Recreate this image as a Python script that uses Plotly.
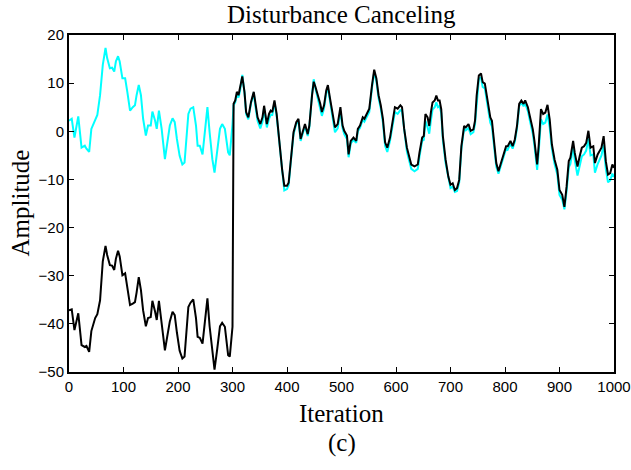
import plotly.graph_objects as go

# ---------------- data ----------------
iter_pre = [0, 5, 10, 17, 23, 29, 32, 37, 41, 48,
            52, 57, 62, 67, 70, 75, 79, 83, 86, 90,
            93, 98, 103, 107, 112, 117, 121, 124, 128, 132,
            136, 141, 145, 150, 153, 158, 161, 165, 170, 176,
            180, 185, 190, 194, 198, 203, 208, 212, 219, 223,
            228, 233, 236, 240, 245, 249, 254, 258, 263, 267,
            272, 277, 281, 286, 292, 295, 300]

disturbance_pre = [2.2, 2.6, -1.3, 3.1, -3.4, -3.0, -3.6, -4.3, 0.5, 2.6,
                   3.4, 7.5, 13.8, 17.3, 15.2, 13.1, 13.2, 12.4, 14.5, 15.6,
                   14.5, 11.0, 11.0, 8.2, 4.3, 5.0, 5.4, 7.5, 9.6, 7.5,
                   2.6, -0.9, 1.2, 1.2, 4.1, 2.2, 0.5, 4.3, 0.5, -5.8,
                   -2.3, 1.2, 2.7, 1.9, -1.6, -5.1, -6.9, -6.5, 3.6, 4.7,
                   5.0, 1.2, -3.0, -3.0, -4.8, -0.2, 5.0, -0.2, -5.8, -8.6,
                   -4.4, 0.5, 1.5, 0.5, -4.4, -5.0, 1.5]

output_pre = [-37.2, -37.0, -41.3, -37.8, -44.4, -44.8, -44.6, -45.8, -41.5, -38.8,
              -38.0, -35.1, -27.0, -23.8, -25.7, -27.8, -27.9, -28.8, -26.5, -24.8,
              -26.0, -29.9, -29.5, -32.5, -36.1, -35.8, -35.5, -33.5, -30.3, -33.0,
              -37.2, -40.5, -38.8, -38.6, -35.2, -37.5, -39.2, -35.2, -39.5, -45.5,
              -42.8, -39.5, -37.5, -38.2, -41.8, -45.6, -47.2, -46.8, -36.5, -35.6,
              -34.9, -38.8, -42.7, -42.9, -44.1, -40.2, -34.7, -40.5, -46.4, -49.5,
              -45.2, -40.5, -39.8, -40.6, -46.5, -46.8, -40.6]

iter_post = [302, 305, 308, 311, 314, 318, 322, 325, 329, 334,
             339, 342, 346, 351, 355, 358, 363, 367, 370, 373,
             377, 381, 386, 391, 395, 400, 403, 407, 412, 417,
             421, 425, 430, 433, 438, 441, 446, 449, 452, 456,
             461, 464, 468, 472, 475, 479, 484, 488, 493, 498,
             502, 505, 510, 513, 517, 522, 527, 530, 534, 539,
             542, 546, 551, 556, 560, 564, 568, 572, 576, 580,
             584, 589, 594, 598, 603, 608, 611, 615, 620, 624,
             628, 634, 640, 643, 648, 651, 654, 658, 661, 664,
             667, 671, 674, 677, 680, 683, 686, 691, 696, 700,
             704, 708, 712, 716, 720, 725, 728, 733, 737, 742,
             745, 748, 752, 756, 759, 763, 768, 773, 776, 779,
             784, 788, 792, 797, 802, 805, 810, 814, 818, 822,
             826, 830, 834, 837, 842, 846, 851, 854, 859, 862,
             866, 870, 874, 878, 882, 886, 891, 896, 900, 905,
             909, 913, 917, 920, 925, 928, 933, 937, 941, 945,
             949, 953, 957, 962, 965, 970, 974, 977, 981, 985,
             989, 993, 997, 1000]

disturbance_post = [5.4, 6.0, 7.6, 7.0, 8.5, 11.7, 8.0, 3.6, 2.5, 5.8,
                    8.0, 5.2, 2.2, 0.6, 2.0, 4.8, 0.8, 2.6, 3.4, 3.4,
                    6.0, 3.2, -2.8, -8.5, -12.3, -12.0, -11.2, -6.3, -0.6, 1.5,
                    2.2, -2.0, 0.1, 1.1, -1.0, 0.8, 7.8, 10.8, 9.0, 7.2,
                    5.0, 3.2, 4.8, 8.0, 9.0, 6.0, 2.6, -0.2, 0.6, 4.2,
                    0.6, -0.6, -1.6, -5.4, -2.5, -1.8, -2.4, 0.0, 0.7, 2.4,
                    2.0, 3.0, 4.0, 9.0, 12.3, 10.4, 6.9, 4.8, 1.8, -3.0,
                    -4.3, -2.0, 1.5, 4.0, 3.6, 4.4, 4.2, -0.2, -4.2, -6.0,
                    -7.8, -8.3, -7.8, -5.3, -2.0, -1.8, 2.2, 0.8, -0.5, 2.2,
                    4.5, 5.0, 6.0, 5.0, 5.2, 3.8, -1.8, -6.6, -10.0, -11.8,
                    -11.5, -12.6, -12.4, -10.6, -3.6, 0.6, 0.2, 0.7, -0.6, -0.2,
                    1.5, 6.2, 10.8, 11.2, 9.2, 8.9, 5.6, 1.8, 1.0, -2.5,
                    -7.3, -8.8, -7.4, -5.6, -3.6, -3.8, -2.6, -3.6, -2.2, 0.6,
                    5.2, 6.0, 5.2, 5.8, 4.2, 2.0, -0.5, -3.0, -8.0, -4.0,
                    2.5, 1.5, 1.8, 3.5, 0.8, -3.6, -6.8, -9.0, -13.2, -14.2,
                    -16.2, -12.4, -7.5, -6.8, -3.2, -6.0, -9.2, -7.2, -5.2, -4.8,
                    -4.0, -1.5, -5.0, -4.8, -8.6, -6.8, -5.8, -5.0, -2.8, -7.8,
                    -10.6, -10.2, -8.8, -9.5]

output_post = [5.7, 6.4, 8.2, 7.5, 8.9, 11.4, 8.2, 4.0, 2.9, 6.1,
               8.2, 5.7, 2.9, 1.5, 2.9, 5.3, 1.5, 3.6, 4.3, 4.0,
               6.4, 3.6, -2.3, -7.9, -11.3, -11.3, -10.7, -5.8, -0.2, 1.9,
               2.6, -1.6, 0.5, 1.5, -0.6, 1.2, 7.5, 10.3, 9.3, 7.8,
               5.7, 4.0, 5.4, 8.5, 9.6, 6.8, 3.6, 0.8, 1.5, 5.0,
               1.2, 0.1, -0.9, -4.8, -2.0, -1.3, -2.0, 0.5, 1.2, 2.9,
               2.6, 3.6, 4.7, 9.6, 12.8, 11.0, 7.5, 5.4, 2.6, -2.3,
               -3.4, -1.3, 2.2, 5.0, 4.7, 5.4, 5.0, 0.5, -3.4, -5.1,
               -6.9, -7.3, -6.9, -4.5, -1.3, -1.0, 3.6, 2.9, 1.1, 3.9,
               6.0, 6.4, 7.4, 6.4, 6.4, 4.6, -1.0, -5.9, -9.4, -11.1,
               -10.8, -12.2, -11.8, -10.1, -3.1, 1.1, 0.8, 1.5, 0.1, 0.4,
               2.2, 7.4, 11.6, 12.0, 10.2, 9.9, 6.4, 2.9, 2.2, -1.7,
               -6.6, -8.3, -6.9, -5.2, -3.1, -3.1, -2.0, -3.1, -1.7, 1.1,
               5.7, 6.4, 5.7, 6.4, 5.0, 2.9, 0.4, -2.0, -6.9, -2.7,
               4.6, 3.6, 3.9, 5.5, 2.5, -2.7, -5.9, -8.0, -12.2, -13.2,
               -15.7, -11.5, -6.2, -5.5, -2.0, -4.5, -7.3, -5.2, -3.4, -3.1,
               -2.4, 0.1, -3.4, -3.1, -6.6, -4.8, -4.1, -3.4, -1.0, -6.2,
               -9.0, -8.7, -6.9, -7.6]

x_ticks = [0, 100, 200, 300, 400, 500, 600, 700, 800, 900, 1000]
y_ticks = [-50, -40, -30, -20, -10, 0, 10, 20]

iterations = iter_pre + iter_post
disturbance = disturbance_pre + disturbance_post
output = output_pre + output_post

# ---------------- figure ----------------
serif = "Liberation Serif, Times New Roman, serif"
sans = "Liberation Sans, Arial, sans-serif"

fig = go.Figure()
fig.add_trace(go.Scatter(x=iterations, y=disturbance, mode="lines",
                         line=dict(color="#00FFFF", width=2), showlegend=False))
fig.add_trace(go.Scatter(x=iterations, y=output, mode="lines",
                         line=dict(color="black", width=2), showlegend=False))

axis_common = dict(showline=True, linecolor="black", linewidth=2, mirror="ticks",
                   ticks="inside", ticklen=5, tickwidth=1, tickcolor="black",
                   showgrid=False, zeroline=False, automargin=False,
                   tickfont=dict(family=sans, size=15, color="black"))

fig.update_xaxes(range=[0, 1000], tickvals=x_ticks, **axis_common)
fig.update_yaxes(range=[-50, 20], tickvals=y_ticks, **axis_common)

L, R, T, B = 69, 17, 35, 98
W, H = 631, 470
ph = H - T - B
pw = W - L - R

def py(pix):
    return (H - B - pix) / ph

def px(pix):
    return (pix - L) / pw

ann_font = dict(family=serif, size=25, color="black")
fig.update_layout(
    width=W, height=H,
    margin=dict(l=L, r=R, t=T, b=B, autoexpand=False),
    paper_bgcolor="white", plot_bgcolor="white",
    annotations=[
        dict(text="Disturbance Canceling", xref="paper", yref="paper",
             x=0.5, y=py(15), xanchor="center", yanchor="middle",
             showarrow=False, font=ann_font),
        dict(text="Iteration", xref="paper", yref="paper",
             x=0.5, y=py(413), xanchor="center", yanchor="middle",
             showarrow=False, font=ann_font),
        dict(text="(c)", xref="paper", yref="paper",
             x=0.5, y=py(443), xanchor="center", yanchor="middle",
             showarrow=False, font=ann_font),
        dict(text="Amplitude", xref="paper", yref="paper",
             x=px(20), y=0.5, xanchor="center", yanchor="middle",
             textangle=-90, showarrow=False, font=ann_font),
    ],
)

fig.write_html("out.html",
               config={"displayModeBar": False, "staticPlot": True},
               post_script="document.body.style.margin='0';document.body.style.overflow='hidden';")
